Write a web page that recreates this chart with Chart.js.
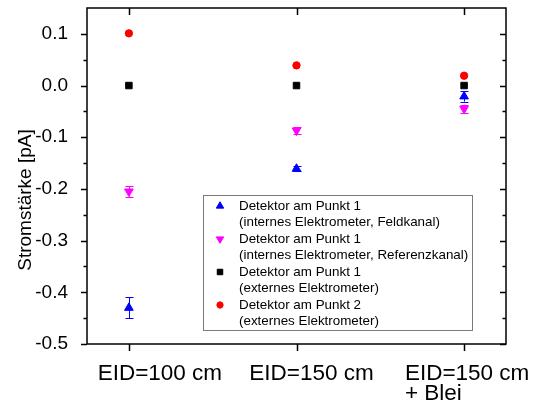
<!DOCTYPE html>
<html><head><meta charset="utf-8">
<script src="https://cdn.jsdelivr.net/npm/chart.js@4.4.1/dist/chart.umd.min.js"></script>
<style>html,body{margin:0;padding:0;background:#fff}</style>
</head><body>
<canvas id="c" width="538" height="409"></canvas>
<script>
// ---- data ----
const categories = [['EID=100 cm'], ['EID=150 cm'], ['EID=150 cm', '+ Blei']];
const xPositions = [1, 2, 3];
const yTickValues = [0.1, 0.0, -0.1, -0.2, -0.3, -0.4, -0.5];
const yTitle = 'Stromstärke [pA]';

const labelFeld = ['Detektor am Punkt 1', '(internes Elektrometer, Feldkanal)'];
const labelRef = ['Detektor am Punkt 1', '(internes Elektrometer, Referenzkanal)'];
const labelExt1 = ['Detektor am Punkt 1', '(externes Elektrometer)'];
const labelExt2 = ['Detektor am Punkt 2', '(externes Elektrometer)'];

const feldkanal = [-0.430, -0.161, -0.021];
const feldkanalErr = [0.020, 0.005, 0.010];
const referenzkanal = [-0.205, -0.087, -0.045];
const referenzkanalErr = [0.010, 0.007, 0.008];
const extern1 = [0.000, 0.000, 0.000];
const extern1Err = [0.0, 0.0, 0.0];
const extern2 = [0.101, 0.039, 0.019];
const extern2Err = [0.0, 0.0, 0.0];

// ---- style ----
const FONT = "'Liberation Sans', Arial, sans-serif";
const pts = arr => xPositions.map((x, i) => ({x: x, y: arr[i]}));

function mkSet(label, data, err, color, style, rot, r) {
  return {
    label: label, data: pts(data), errors: err,
    showLine: false, pointStyle: style, rotation: rot,
    pointRadius: r, pointHoverRadius: r,
    backgroundColor: color, borderColor: color, borderWidth: 1
  };
}

const datasets = [
  mkSet(labelFeld, feldkanal, feldkanalErr, '#0000ff', 'triangle', 0, 5),
  mkSet(labelRef, referenzkanal, referenzkanalErr, '#ff00ff', 'triangle', 180, 5),
  mkSet(labelExt1, extern1, extern1Err, '#000000', 'rect', 0, 4.6),
  mkSet(labelExt2, extern2, extern2Err, '#ff0000', 'circle', 0, 3.7)
];

const errorBars = {
  id: 'errorBars',
  beforeDatasetsDraw(chart) {
    const ctx = chart.ctx, ys = chart.scales.y;
    chart.data.datasets.forEach((ds, di) => {
      const meta = chart.getDatasetMeta(di);
      ctx.save();
      ctx.strokeStyle = ds.borderColor; ctx.lineWidth = 1;
      meta.data.forEach((el, i) => {
        const v = ds.data[i].y, e = ds.errors[i];
        if (!e) return;
        const y1 = ys.getPixelForValue(v + e), y2 = ys.getPixelForValue(v - e);
        const x = Math.round(el.x) + 0.5;
        ctx.beginPath();
        ctx.moveTo(x, y1); ctx.lineTo(x, y2);
        ctx.moveTo(x - 4, Math.round(y1) + 0.5); ctx.lineTo(x + 4, Math.round(y1) + 0.5);
        ctx.moveTo(x - 4, Math.round(y2) + 0.5); ctx.lineTo(x + 4, Math.round(y2) + 0.5);
        ctx.stroke();
      });
      ctx.restore();
    });
  }
};

const frame = {
  id: 'frame',
  afterDraw(chart) {
    const ctx = chart.ctx, a = chart.chartArea, xs = chart.scales.x, ys = chart.scales.y;
    ctx.save();
    ctx.strokeStyle = '#000'; ctx.lineWidth = 1.5;
    ctx.strokeRect(a.left, a.top, a.right - a.left, a.bottom - a.top);
    ctx.beginPath();
    yTickValues.forEach(v => {
      const y = Math.round(ys.getPixelForValue(v)) + 0.5;
      ctx.moveTo(a.left - 6, y); ctx.lineTo(a.left, y);
      ctx.moveTo(a.right, y); ctx.lineTo(a.right - 6, y);
      const m = ys.getPixelForValue(v + 0.05);
      const ym = Math.round(m) + 0.5;
      if (m > a.top + 1) {
        ctx.moveTo(a.left - 3.5, ym); ctx.lineTo(a.left, ym);
        ctx.moveTo(a.right, ym); ctx.lineTo(a.right - 3.5, ym);
      }
    });
    xPositions.forEach(v => {
      const x = Math.round(xs.getPixelForValue(v)) + 0.5;
      ctx.moveTo(x, a.bottom); ctx.lineTo(x, a.bottom + 7);
      ctx.moveTo(x, a.top); ctx.lineTo(x, a.top + 7);
    });
    ctx.stroke();

    // category labels
    const offs = [31, 15, 3];
    ctx.fillStyle = '#000';
    ctx.font = '22.5px ' + FONT;
    ctx.textBaseline = 'alphabetic';
    ctx.textAlign = 'left';
    categories.forEach((lines, i) => {
      const cx = xs.getPixelForValue(xPositions[i]) + offs[i];
      const w0 = ctx.measureText(lines[0]).width;
      const left = cx - w0 / 2;
      lines.forEach((t, j) => ctx.fillText(t, left, 380 + j * 20));
    });

    // y title
    ctx.save();
    ctx.font = '19px ' + FONT;
    ctx.translate(26, (a.top + a.bottom) / 2 + 24);
    ctx.rotate(-Math.PI / 2);
    ctx.textAlign = 'center'; ctx.textBaseline = 'middle';
    ctx.fillText(yTitle, 0, 0);
    ctx.restore();

    // legend
    const bx = 203.5, by = 195.5, bw = 269, bh = 135;
    ctx.fillStyle = '#fff';
    ctx.fillRect(bx, by, bw, bh);
    ctx.strokeStyle = '#7a7a7a'; ctx.lineWidth = 1;
    ctx.strokeRect(bx, by, bw, bh);
    ctx.font = '13.4px ' + FONT;
    ctx.textAlign = 'left'; ctx.textBaseline = 'middle';
    chart.data.datasets.forEach((ds, i) => {
      const y0 = 206 + i * 33;
      ctx.fillStyle = ds.backgroundColor; ctx.strokeStyle = ds.borderColor; ctx.lineWidth = 1;
      Chart.helpers.drawPoint(ctx, {pointStyle: ds.pointStyle, rotation: ds.rotation, radius: ds.pointRadius * 0.85, borderWidth: 1}, 220, y0);
      ctx.fillStyle = '#000';
      ds.label.forEach((t, j) => ctx.fillText(t, 239, y0 + j * 16.5));
    });
    ctx.restore();
  }
};

new Chart(document.getElementById('c'), {
  type: 'scatter',
  data: {datasets: datasets},
  options: {
    responsive: false, devicePixelRatio: 1, animation: false,
    layout: {padding: {top: 8, right: 32, left: 0, bottom: 0}},
    plugins: {legend: {display: false}, tooltip: {enabled: false}},
    scales: {
      x: {
        type: 'linear', min: 0.75, max: 3.25,
        grid: {display: false}, border: {display: false},
        ticks: {display: false},
        afterBuildTicks: s => { s.ticks = xPositions.map(v => ({value: v})); },
        afterFit: s => { s.height = 65; s.paddingLeft = 0; s.paddingRight = 0; }
      },
      y: {
        type: 'linear', min: -0.5, max: 0.15,
        grid: {display: false}, border: {display: false},
        ticks: {
          color: '#000', padding: 11, font: {family: FONT, size: 19},
          callback: v => (Math.abs(v) < 1e-9 ? '0.0' : v.toFixed(1))
        },
        afterBuildTicks: s => { s.ticks = yTickValues.map(v => ({value: v})); },
        afterFit: s => { s.width = 87; s.paddingTop = 0; s.paddingBottom = 0; }
      }
    }
  },
  plugins: [errorBars, frame]
});
</script>
</body></html>
